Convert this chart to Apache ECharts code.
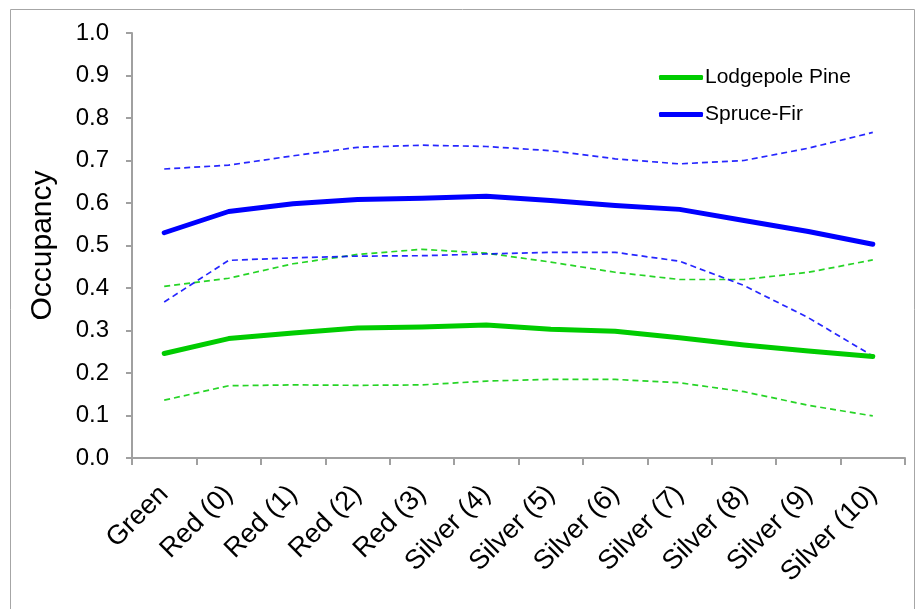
<!DOCTYPE html>
<html>
<head>
<meta charset="utf-8">
<script src="https://cdn.jsdelivr.net/npm/echarts@6/dist/echarts.min.js"></script>
<style>
  html, body { margin: 0; padding: 0; background: #fff; }
  #chart { width: 917px; height: 609px; }
</style>
</head>
<body>
<div id="chart"></div>
<script>
// Forest stage categories along the x axis
const categories = ['Green', 'Red (0)', 'Red (1)', 'Red (2)', 'Red (3)', 'Silver (4)',
  'Silver (5)', 'Silver (6)', 'Silver (7)', 'Silver (8)', 'Silver (9)', 'Silver (10)'];

// Lodgepole pine occupancy estimate with lower / upper bounds
const lodgepole = [0.246, 0.281, 0.294, 0.306, 0.308, 0.313, 0.303, 0.298, 0.283, 0.266, 0.252, 0.239];
const lodgepoleLow = [0.136, 0.170, 0.172, 0.171, 0.172, 0.181, 0.185, 0.185, 0.177, 0.156, 0.124, 0.099];
const lodgepoleHigh = [0.404, 0.423, 0.457, 0.479, 0.491, 0.482, 0.461, 0.437, 0.420, 0.420, 0.437, 0.466];

// Spruce-fir occupancy estimate with lower / upper bounds
const spruce = [0.530, 0.580, 0.598, 0.608, 0.611, 0.616, 0.606, 0.594, 0.585, 0.559, 0.533, 0.503];
const spruceLow = [0.367, 0.465, 0.471, 0.475, 0.476, 0.480, 0.484, 0.484, 0.463, 0.406, 0.330, 0.240];
const spruceHigh = [0.680, 0.689, 0.711, 0.731, 0.736, 0.733, 0.723, 0.704, 0.692, 0.700, 0.729, 0.766];

const GREEN = '#00cc00';
const BLUE = '#0000ff';
const FONT = '"Liberation Sans", Arial, sans-serif';

function solid(name, data, color) {
  return {
    name, type: 'line', data, symbol: 'none', smooth: false,
    lineStyle: { color, width: 5, cap: 'round', join: 'round' },
    itemStyle: { color }, z: 3
  };
}
function dashed(name, data, color) {
  return {
    name, type: 'line', data, symbol: 'none', smooth: false,
    lineStyle: { color, width: 1.7, type: [6, 4], opacity: 0.85 },
    itemStyle: { color }, z: 2
  };
}

const chart = echarts.init(document.getElementById('chart'), null, { renderer: 'canvas' });
chart.setOption({
  animation: false,
  backgroundColor: '#ffffff',
  textStyle: { fontFamily: FONT },
  graphic: [{
    type: 'rect', left: 8, top: 7, silent: true,
    shape: { width: 904, height: 620 },
    style: { fill: 'none', stroke: '#a6a6a6', lineWidth: 1 }
  }],
  grid: { left: 132, right: 12, top: 33, bottom: 151 },
  legend: {
    data: ['Lodgepole Pine', 'Spruce-Fir'],
    orient: 'vertical', left: 654, top: 62, itemGap: 16,
    itemWidth: 44, itemHeight: 5, icon: 'roundRect',
    textStyle: { fontFamily: FONT, fontSize: 21, color: '#000', padding: [0, 0, 0, -3] }
  },
  xAxis: {
    type: 'category', data: categories, boundaryGap: true,
    axisLine: { lineStyle: { color: '#a0a0a0', width: 2 } },
    axisTick: { show: true, length: 7, inside: false, alignWithLabel: false, lineStyle: { color: '#a0a0a0', width: 2 } },
    axisLabel: { interval: 0, rotate: 45, margin: 32, fontFamily: FONT, fontSize: 27, color: '#000' }
  },
  yAxis: {
    type: 'value', min: 0, max: 1, interval: 0.1,
    name: 'Occupancy', nameLocation: 'middle', nameGap: 74,
    nameTextStyle: { fontFamily: FONT, fontSize: 30, color: '#000' },
    axisLine: { show: true, lineStyle: { color: '#a0a0a0', width: 2 } },
    axisTick: { show: true, length: 6, lineStyle: { color: '#a0a0a0', width: 2 } },
    splitLine: { show: false },
    axisLabel: { margin: 23, fontFamily: FONT, fontSize: 24, color: '#000', formatter: v => v.toFixed(1) }
  },
  series: [
    dashed('Lodgepole Pine lower', lodgepoleLow, GREEN),
    dashed('Lodgepole Pine upper', lodgepoleHigh, GREEN),
    dashed('Spruce-Fir lower', spruceLow, BLUE),
    dashed('Spruce-Fir upper', spruceHigh, BLUE),
    solid('Lodgepole Pine', lodgepole, GREEN),
    solid('Spruce-Fir', spruce, BLUE)
  ]
});
</script>
</body>
</html>
